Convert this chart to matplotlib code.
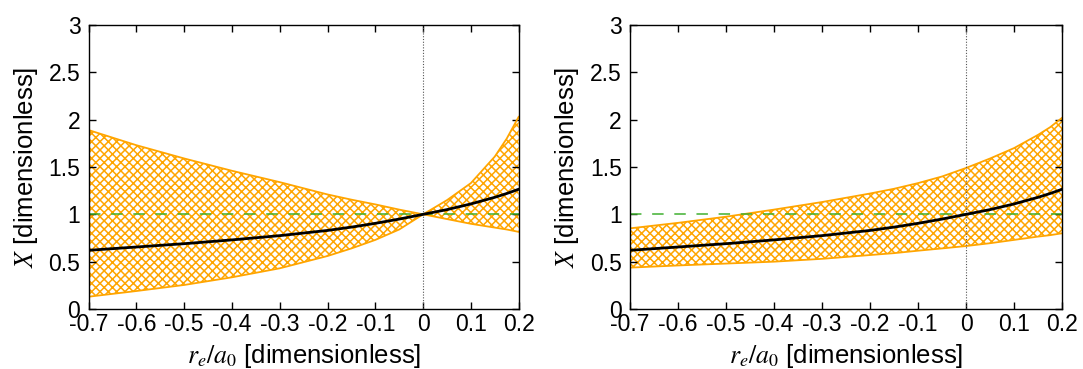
import matplotlib.pyplot as plt
import numpy as np

plt.rcParams['font.family'] = ['Liberation Sans', 'DejaVu Sans']
plt.rcParams['mathtext.fontset'] = 'stix'
plt.rcParams['hatch.linewidth'] = 1.1

# x grid shared by both panels
x = [-0.7, -0.6, -0.5, -0.4, -0.3, -0.2, -0.15, -0.1, -0.05, 0.0, 0.05, 0.1, 0.15, 0.175, 0.2]

# central curve (same in both panels)
center = [0.62, 0.655, 0.69, 0.73, 0.775, 0.83, 0.865, 0.905, 0.95, 1.0, 1.05, 1.11, 1.18, 1.22, 1.265]

# left panel band (the two edges cross at x = 0)
left_a = [1.89, 1.73, 1.59, 1.46, 1.34, 1.21, 1.155, 1.105, 1.05, 1.0, 0.95, 0.90, 0.86, 0.84, 0.815]
left_b = [0.13, 0.19, 0.254, 0.335, 0.43, 0.56, 0.64, 0.73, 0.84, 1.0, 1.15, 1.33, 1.61, 1.80, 2.03]

# right panel band
right_upper = [0.852, 0.91, 0.975, 1.05, 1.13, 1.22, 1.27, 1.33, 1.40, 1.49, 1.59, 1.70, 1.84, 1.92, 2.02]
right_lower = [0.437, 0.46, 0.48, 0.50, 0.53, 0.57, 0.59, 0.616, 0.64, 0.665, 0.695, 0.73, 0.765, 0.78, 0.80]

xticks = [-0.7, -0.6, -0.5, -0.4, -0.3, -0.2, -0.1, 0, 0.1, 0.2]
xticklabels = ['-0.7', '-0.6', '-0.5', '-0.4', '-0.3', '-0.2', '-0.1', '0', '0.1', '0.2']
yticks = [0, 0.5, 1, 1.5, 2, 2.5, 3]
yticklabels = ['0', '0.5', '1', '1.5', '2', '2.5', '3']

orange = '#ffa500'
green = '#40b030'

fig = plt.figure(figsize=(10.83, 3.69), dpi=100)
ax1 = fig.add_axes([0.0819, 0.1626, 0.397, 0.7696])
ax2 = fig.add_axes([0.5817, 0.1626, 0.399, 0.7696])

for ax, a, b in [(ax1, left_a, left_b), (ax2, right_upper, right_lower)]:
    ax.fill_between(x, b, a, facecolor='none', edgecolor=orange, hatch='xxxx', linewidth=0)
    ax.plot(x, a, color=orange, lw=1.3)
    ax.plot(x, b, color=orange, lw=1.3)
    ax.axhline(1.0, color=green, lw=1.1, dashes=(7.5, 7))
    ax.axvline(0.0, color='#555555', lw=0.8, ls=(0, (1, 1.5)))
    ax.plot(x, center, color='black', lw=2)

    ax.set_xlim(-0.7, 0.2)
    ax.set_ylim(0, 3)
    ax.set_xticks(xticks, xticklabels, fontsize=16.5)
    ax.set_yticks(yticks, yticklabels, fontsize=16.5)
    ax.tick_params(direction='in', length=5, width=1, top=True, right=True)
    ax.tick_params(axis='x', pad=3)
    ax.tick_params(axis='y', pad=6)
    for spine in ax.spines.values():
        spine.set_linewidth(1)
    ax.set_xlabel(r'$r_e/a_0$ [dimensionless]', fontsize=18.5, labelpad=4)
    ax.set_ylabel(r'$X$ [dimensionless]', fontsize=18.5, labelpad=6)

fig.savefig('out.png', dpi=100)
